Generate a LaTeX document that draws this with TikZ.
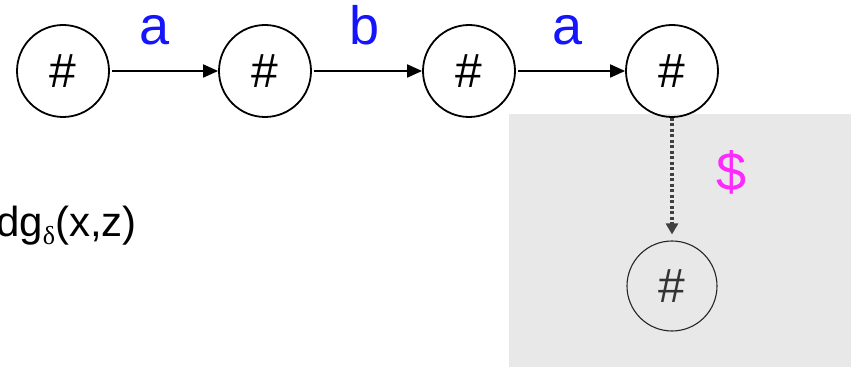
\documentclass[tikz,border=0pt]{standalone}
\usepackage{fontspec}
\setmainfont{Liberation Sans}
\newfontfamily\symfont{Liberation Serif}
\usetikzlibrary{arrows.meta}
\definecolor{lblue}{RGB}{20,20,255}
\definecolor{lmag}{RGB}{255,40,255}
\definecolor{boxgray}{RGB}{232,232,232}
\tikzset{
  x=1pt, y=1pt,
  state/.style={circle, draw=black, line width=1.8pt, minimum size=92pt, inner sep=0pt,
    font=\fontsize{48}{54}\selectfont},
  sstate/.style={circle, draw=black!85, line width=1.1pt, minimum size=90pt, inner sep=0pt,
    font=\fontsize{48}{54}\selectfont, text=black!80},
  edge/.style={line width=1.8pt, -{Triangle[length=15pt,width=13pt]}, shorten <=2pt},
  lab/.style={text=lblue, font=\fontsize{54}{60}\selectfont, anchor=base, inner sep=0pt},
}
\begin{document}
\begin{tikzpicture}
\clip (0,0) rectangle (851,367);
\fill[boxgray] (509,0) rectangle (851,253);
\node[state] (s1) at (63,296) {\#};
\node[state] (s2) at (265,296) {\#};
\node[state] (s3) at (469,296) {\#};
\node[state] (s4) at (672,296) {\#};
\node[sstate] (s5) at (672,81) {\#};
\draw[edge] (s1) -- (s2);
\draw[edge] (s2) -- (s3);
\draw[edge] (s3) -- (s4);
\node[lab] (la1) at (155,322) {a};
\node[lab] (lb) at (365,322) {b};
\node[lab] (la2) at (568,322) {a};
\draw[line width=3.2pt, black!75, dash pattern=on 3pt off 2.5pt,
  -{Triangle[length=11pt,width=12pt]}, shorten >=6pt] (s4) -- (s5);
\node[text=lmag, font=\fontsize{54}{60}\selectfont, inner sep=0pt] (dollar) at (732,195) {\$};
\node[anchor=base east, inner sep=0pt, font=\fontsize{42}{50}\selectfont] (dg) at (137,130)
  {dg\raisebox{-8pt}{\fontsize{26}{30}\selectfont\symfont δ}(x,z)};
\end{tikzpicture}
\end{document}
